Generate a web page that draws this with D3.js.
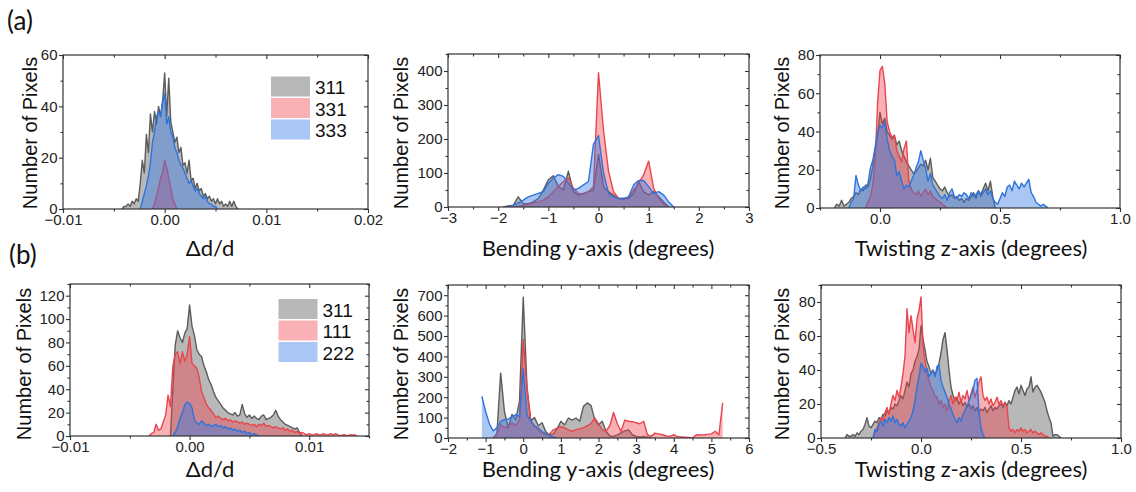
<!DOCTYPE html>
<html>
<head>
<meta charset="utf-8">
<script src="https://cdn.jsdelivr.net/npm/d3@7"></script>
<style>
  html, body { margin: 0; padding: 0; background: #fff; }
  svg { display: block; }
  .tick text { font-family: "Liberation Sans", Arial, sans-serif; font-size: 15px; fill: #222; }
  .tick line { stroke: #333; stroke-width: 1.1; }
  .ytitle { font-family: "Liberation Sans", Arial, sans-serif; font-size: 20px; fill: #111; }
  .xtitle { font-family: Lato, "Open Sans", sans-serif; font-size: 22px; fill: #111; }
  .tag { font-family: Lato, "Open Sans", sans-serif; font-size: 26px; fill: #111; }
  .legend text { font-family: "Liberation Sans", Arial, sans-serif; font-size: 19px; fill: #111; }
</style>
</head>
<body>
<svg id="fig" width="1136" height="492"></svg>
<script>
// ---------- Histogram counts (Number of Pixels per bin) ----------
// Row (a): reflections 311 / 331 / 333
const a1Step = 0.0002;                 // Δd/d bin width
const a1Start311 = -0.0042;
const a1Counts311 = [0,1,1,2,1,3,2,4,3,10, 19,14,29,22,37,30,38,33,40,36, 42,53,36,51,34,30,26,28,22,24,
  17,18,14,19,11,12,8,10,7,8, 5,6,4,5,3,4,2,4,2,3, 1,2,1,3,1,3,1,0];
const a1Start331 = -0.0012;
const a1Counts331 = [0,2,5,8,12,14,19,16,12,8,4,2,0];
const a1Start333 = -0.0024;
const a1Counts333 = [0,3,6,9,13,18,26,30,36,38, 36,42,45,33,36,30,28,24,22,19, 17,16,14,12,10,11,9,7,8,6,
  5,4,5,3,2,2,1,1,0];

const a2Step = 0.1;                    // bending bin width (degrees)
const a2Start311 = -1.9;
const a2Counts311 = [0,3,5,30,10,10,15,25,50,80, 92,60,50,105,45,35,40,45,50,155, 60,45,35,25,25,25,40,75,45,35,
  45,30,15,0];
const a2Start331 = -1.7;
const a2Counts331 = [0,2,5,8,12,15,20,30,45,60, 75,85,55,40,38,45,60,395,225,105, 45,25,22,30,50,70,95,135,55,25, 8,0];
const a2Start333 = -1.8;
const a2Counts333 = [0,5,12,20,30,35,40,45,70,85, 95,90,70,50,55,65,75,185,210,100, 40,30,25,25,30,65,78,78,60,40,
  45,35,15,0];

const a3Step = 0.01;                   // twisting bin width (degrees)
const a3Start311 = -0.19;
const a3Counts311 = [0,2,1,4,1,2,3,5,6,8, 7,10,9,12,11,15,22,30,38,50, 44,47,40,38,36,38,33,35,30,27,
  24,22,20,18,19,21,23,22,25,20, 26,16,14,12,10,9,11,8,6,7, 5,6,4,5,3,5,4,6,8,5, 9,7,10,13,9,14,6,0];
const a3Start331 = -0.06;
const a3Counts331 = [0,3,6,12,25,55,72,74,65,45, 40,37,38,30,27,24,31,35,14,10, 8,7,9,6,8,10,7,9,6,5, 4,3,2,1,0];
const a3Start333 = -0.13;
const a3Counts333 = [0,3,5,17,12,9,11,10,13,21, 25,32,40,43,42,45,36,30,27,25, 17,19,14,10,12,11,14,17,21,24,
  30,25,21,14,18,12,10,8,6,5, 7,4,8,10,6,5,7,6,8,7, 5,8,6,7,9,6,8,10,7,9, 5,3,2,5,8,6,11,12,9,14,
  12,10,13,11,13,15,8,6,3,2, 1,2,1,0];

// Row (b): reflections 311 / 111 / 222
const b1Step = 0.0002;
const b1Start311 = -0.0016;
const b1Counts311 = [0,40,78,90,84,80,88,92,112,94, 86,74,70,68,60,55,48,44,38,33, 30,27,24,22,20,19,18,20,17,18,
  27,19,16,18,15,17,15,14,17,18, 14,15,16,18,22,17,14,12,10,9, 8,7,6,7,3,0];
const b1Start111 = -0.0034;
const b1Counts111 = [0,2,3,10,5,6,12,18,35,25, 60,70,72,62,72,64,70,85,62,60, 58,50,38,33,27,24,22,19,16,17,
  15,14,15,13,14,12,13,12,11,12, 10,11,10,9,10,8,10,9,11,8, 9,8,7,8,7,6,7,5,6,4, 5,3,4,2,3,2,1,2,1,1,
  2,1,1,2,1,1,2,1,2,1, 0,1,1,0,1,1,1,0];
const b1Start222 = -0.0014;
const b1Counts222 = [0,3,8,15,20,27,29,28,24,14, 11,10,13,11,9,10,8,9,10,8, 9,7,8,6,7,5,6,4,5,3, 4,2,3,1,2,1,0];

const b2Step = 0.1;
const b2Start311 = -0.8;
const b2Counts311 = [0,20,318,130,50,115,90,180,690,250, 85,100,60,75,30,15,20,45,82,65, 98,88,98,82,155,172,160,90,65,82,
  33,10,8,15,25,35,40,16,8,5, 6,4,0];
const b2Start111 = -0.8;
const b2Counts111 = [0,20,65,50,58,73,62,85,482,240, 80,57,41,25,16,20,40,48,55,50, 40,33,41,45,50,60,70,98,70,40,
  33,60,125,70,33,88,82,80,75,70, 82,16,8,24,20,16,10,8,16,6, 5,4,3,0,16,15,16,18,20,33, 16,172];
const b2Start222 = -1.1;
const b2Counts222 = [204,130,70,35,50,82,90,92,105,115, 105,340,110,85,60,48,32,20,12,5, 0];

const b3Step = 0.01;
const b3Start311 = -0.38;
const b3Counts311 = [0,2,1,1,2,1,3,2,4,5, 8,12,7,6,8,10,9,12,11,14, 13,16,15,18,17,20,19,22,25,23,
  28,33,30,38,40,45,48,52,66,58, 52,45,42,38,40,37,40,44,50,58, 62,52,40,30,25,22,24,20,22,19,
  21,18,20,17,19,16,18,15,17,16, 18,15,17,19,16,18,17,19,20,18, 21,19,22,20,24,28,30,26,31,28,
  25,29,30,36,27,30,31,29,27,24, 21,16,12,9,1,2,2,1,0];
const b3Start111 = -0.24;
const b3Counts111 = [0,3,6,9,12,10,15,18,14,20, 25,22,28,24,30,38,48,76,62,72, 64,56,70,75,83,55,45,38,34,30,
  28,25,24,20,22,18,20,16,22,25, 20,24,22,27,21,25,23,28,22,26, 30,24,28,33,36,25,22,24,20,23,
  19,21,24,20,22,19,21,18,6,4, 5,3,5,4,6,4,5,3,4,5, 3,4,3,2,3,2,1,1,0];
const b3Start222 = -0.24;
const b3Counts222 = [0,5,4,8,10,7,11,9,12,10, 13,9,11,8,7,9,6,8,10,12, 16,22,30,36,44,42,39,41,36,38,
  40,36,42,43,34,30,27,24,20,17, 14,11,9,12,10,14,16,19,22,25, 28,34,35,15,6,2,0];

// ---------- Legend labels and tick labels ----------
const legendA = ["311", "331", "333"];
const legendB = ["311", "111", "222"];
const yTitle = "Number of Pixels";
const xTitles = ["\u0394d/d", "Bending y-axis (degrees)", "Twisting z-axis (degrees)"];

const a1XTicks = [-0.01, 0.00, 0.01, 0.02];
const a1YTicks = [0, 20, 40, 60];
const a2XTicks = [-3, -2, -1, 0, 1, 2, 3];
const a2YTicks = [0, 100, 200, 300, 400];
const a3XTicks = [0.0, 0.5, 1.0];
const a3YTicks = [0, 20, 40, 60, 80];
const b1XTicks = [-0.01, 0.00, 0.01];
const b1YTicks = [0, 20, 40, 60, 80, 100, 120];
const b2XTicks = [-2, -1, 0, 1, 2, 3, 4, 5, 6];
const b2YTicks = [0, 100, 200, 300, 400, 500, 600, 700];
const b3XTicks = [-0.5, 0.0, 0.5, 1.0];
const b3YTicks = [0, 20, 40, 60, 80];

// ---------- Styling ----------
const palette = {
  gray: { fill: "rgba(125,125,125,0.55)", stroke: "#5c5c5c" },
  red:  { fill: "rgba(240,60,70,0.40)",  stroke: "#e8464e" },
  blue: { fill: "rgba(50,120,230,0.42)", stroke: "#2f73dc" }
};
const ink = "#333";

const svg = d3.select("#fig");
const defs = svg.append("defs");

function panel(p) {
  const x = d3.scaleLinear().domain(p.xDomain).range([p.left, p.right]);
  const y = d3.scaleLinear().domain(p.yDomain).range([p.bottom, p.top]);
  const g = svg.append("g");

  defs.append("clipPath").attr("id", "clip-" + p.id)
    .append("rect").attr("x", p.left).attr("y", p.top)
    .attr("width", p.right - p.left).attr("height", p.bottom - p.top);

  const plot = g.append("g").attr("clip-path", `url(#clip-${p.id})`);
  const area = d3.area().x(d => x(d.x)).y0(y(0)).y1(d => y(d.y));
  const line = d3.line().x(d => x(d.x)).y(d => y(d.y));

  p.series.forEach(s => {
    const pts = s.counts.map((c, i) => ({ x: s.start + i * p.step, y: c }));
    plot.append("path").datum(pts).attr("d", area)
      .attr("fill", palette[s.color].fill);
    plot.append("path").datum(pts).attr("d", line)
      .attr("fill", "none").attr("stroke", palette[s.color].stroke)
      .attr("stroke-width", 1.4).attr("stroke-linejoin", "round");
  });

  // ticks: outward on bottom/left, mirrored inward on top/right
  const put = (axis, tr) => {
    const a = g.append("g").attr("transform", tr).call(axis);
    a.select(".domain").remove();
    return a;
  };
  put(d3.axisBottom(x).tickValues(p.xMajor).tickFormat(p.xFmt).tickSizeInner(4).tickSizeOuter(0).tickPadding(1),
      `translate(0,${p.bottom})`);
  put(d3.axisBottom(x).tickValues(p.xMinor).tickFormat("").tickSizeInner(2.5).tickSizeOuter(0),
      `translate(0,${p.bottom})`);
  put(d3.axisTop(x).tickValues(p.xMajor).tickFormat("").tickSizeInner(-4).tickSizeOuter(0),
      `translate(0,${p.top})`);
  put(d3.axisTop(x).tickValues(p.xMinor).tickFormat("").tickSizeInner(-2.5).tickSizeOuter(0),
      `translate(0,${p.top})`);
  put(d3.axisLeft(y).tickValues(p.yMajor).tickFormat(d3.format("d")).tickSizeInner(4).tickSizeOuter(0).tickPadding(1.5),
      `translate(${p.left},0)`);
  put(d3.axisLeft(y).tickValues(p.yMinor).tickFormat("").tickSizeInner(2.5).tickSizeOuter(0),
      `translate(${p.left},0)`);
  put(d3.axisRight(y).tickValues(p.yMajor).tickFormat("").tickSizeInner(-4).tickSizeOuter(0),
      `translate(${p.right},0)`);
  put(d3.axisRight(y).tickValues(p.yMinor).tickFormat("").tickSizeInner(-2.5).tickSizeOuter(0),
      `translate(${p.right},0)`);

  g.append("rect").attr("x", p.left).attr("y", p.top)
    .attr("width", p.right - p.left).attr("height", p.bottom - p.top)
    .attr("fill", "none").attr("stroke", ink).attr("stroke-width", 1.2);

  g.append("text").attr("class", "ytitle")
    .attr("transform", `translate(${p.yTitleX},${p.yTitleY}) rotate(-90)`)
    .attr("text-anchor", "middle").attr("dy", "0.35em").text(yTitle);

  g.append("text").attr("class", "xtitle")
    .attr("x", p.xTitleX).attr("y", p.xTitleY).attr("text-anchor", "middle").text(p.xTitle);

  if (p.legend) {
    const lg = g.append("g").attr("class", "legend");
    p.legend.labels.forEach((lab, i) => {
      const yy = p.legend.y + i * p.legend.rowH;
      lg.append("rect").attr("x", p.legend.x).attr("y", yy)
        .attr("width", p.legend.w).attr("height", p.legend.rowH - 1.5)
        .attr("fill", palette[p.series[i].color].fill);
      lg.append("text").attr("x", p.legend.x + p.legend.w + 5).attr("y", yy + p.legend.rowH - 4)
        .text(lab);
    });
  }
}

const fmt2 = d3.format(".2f");
const fmt1 = d3.format(".1f");
const fmtInt = d3.format("d");
const range = (a, b, s) => d3.range(Math.round((b - a) / s) + 1).map(i => +(a + i * s).toFixed(6));

panel({
  id: "a1", left: 63, right: 368, top: 55, bottom: 209,
  xDomain: [-0.01, 0.02], yDomain: [0, 60], step: a1Step,
  xMajor: a1XTicks, xMinor: [-0.005, 0.005, 0.015], xFmt: fmt2,
  yMajor: a1YTicks, yMinor: [10, 30, 50],
  series: [
    { start: a1Start311, counts: a1Counts311, color: "gray" },
    { start: a1Start331, counts: a1Counts331, color: "red" },
    { start: a1Start333, counts: a1Counts333, color: "blue" }
  ],
  legend: { labels: legendA, x: 271, y: 76.5, w: 39, rowH: 21.5 },
  yTitleX: 30, yTitleY: 133, xTitle: xTitles[0], xTitleX: 210, xTitleY: 256
});

panel({
  id: "a2", left: 448, right: 749, top: 54, bottom: 207,
  xDomain: [-3, 3], yDomain: [0, 450], step: a2Step,
  xMajor: a2XTicks, xMinor: range(-2.5, 2.5, 1), xFmt: fmtInt,
  yMajor: a2YTicks, yMinor: range(50, 450, 100),
  series: [
    { start: a2Start311, counts: a2Counts311, color: "gray" },
    { start: a2Start331, counts: a2Counts331, color: "red" },
    { start: a2Start333, counts: a2Counts333, color: "blue" }
  ],
  yTitleX: 401, yTitleY: 133, xTitle: xTitles[1], xTitleX: 598, xTitleY: 256
});

panel({
  id: "a3", left: 820, right: 1120, top: 55, bottom: 208,
  xDomain: [-0.25, 1.0], yDomain: [0, 80], step: a3Step,
  xMajor: a3XTicks, xMinor: [-0.25, 0.25, 0.75], xFmt: fmt1,
  yMajor: a3YTicks, yMinor: [10, 30, 50, 70],
  series: [
    { start: a3Start311, counts: a3Counts311, color: "gray" },
    { start: a3Start331, counts: a3Counts331, color: "red" },
    { start: a3Start333, counts: a3Counts333, color: "blue" }
  ],
  yTitleX: 782, yTitleY: 133, xTitle: xTitles[2], xTitleX: 971, xTitleY: 256
});

panel({
  id: "b1", left: 70, right: 369, top: 284, bottom: 436,
  xDomain: [-0.01, 0.015], yDomain: [0, 130], step: b1Step,
  xMajor: b1XTicks, xMinor: [-0.005, 0.005, 0.015], xFmt: fmt2,
  yMajor: b1YTicks, yMinor: range(10, 130, 20),
  series: [
    { start: b1Start311, counts: b1Counts311, color: "gray" },
    { start: b1Start111, counts: b1Counts111, color: "red" },
    { start: b1Start222, counts: b1Counts222, color: "blue" }
  ],
  legend: { labels: legendB, x: 278.5, y: 299, w: 39, rowH: 21.5 },
  yTitleX: 23.5, yTitleY: 364, xTitle: xTitles[0], xTitleX: 210, xTitleY: 477
});

panel({
  id: "b2", left: 448, right: 749, top: 285, bottom: 438,
  xDomain: [-2, 6], yDomain: [0, 750], step: b2Step,
  xMajor: b2XTicks, xMinor: range(-1.5, 5.5, 1), xFmt: fmtInt,
  yMajor: b2YTicks, yMinor: range(50, 750, 100),
  series: [
    { start: b2Start311, counts: b2Counts311, color: "gray" },
    { start: b2Start111, counts: b2Counts111, color: "red" },
    { start: b2Start222, counts: b2Counts222, color: "blue" }
  ],
  yTitleX: 401, yTitleY: 364, xTitle: xTitles[1], xTitleX: 598, xTitleY: 477
});

panel({
  id: "b3", left: 821, right: 1121, top: 285, bottom: 438,
  xDomain: [-0.5, 1.0], yDomain: [0, 90], step: b3Step,
  xMajor: b3XTicks, xMinor: [-0.25, 0.25, 0.75], xFmt: fmt1,
  yMajor: b3YTicks, yMinor: [10, 30, 50, 70, 90],
  series: [
    { start: b3Start311, counts: b3Counts311, color: "gray" },
    { start: b3Start111, counts: b3Counts111, color: "red" },
    { start: b3Start222, counts: b3Counts222, color: "blue" }
  ],
  yTitleX: 782, yTitleY: 364, xTitle: xTitles[2], xTitleX: 971, xTitleY: 477
});

// row tags
svg.append("text").attr("class", "tag").attr("x", 7).attr("y", 30).text("(a)");
svg.append("text").attr("class", "tag").attr("x", 9).attr("y", 264).text("(b)");
</script>
</body>
</html>
